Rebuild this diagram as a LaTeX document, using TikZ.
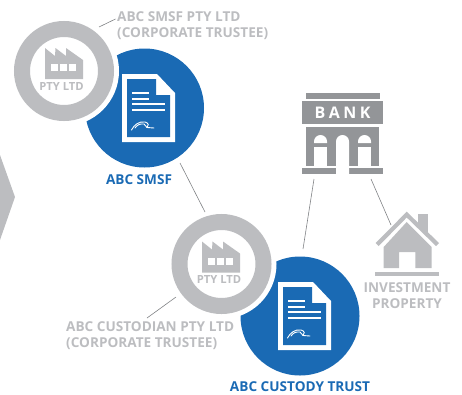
\documentclass[tikz,border=0pt]{standalone}
\usepackage{fontspec}
\setmainfont{Open Sans}
\definecolor{ringgrey}{HTML}{BCBDC0}
\definecolor{bankgrey}{HTML}{939598}
\definecolor{trustblue}{HTML}{1A6AB4}
\definecolor{linegrey}{HTML}{808285}
\tikzset{
  trustdisc/.style={circle,fill=trustblue,minimum size=119pt,inner sep=0pt},
  halo/.style={circle,fill=white,minimum size=110pt,inner sep=0pt},
  ringdisc/.style={circle,draw=ringgrey,line width=16pt,fill=white,minimum size=84pt,inner sep=0pt},
  link/.style={draw=linegrey,line width=0.6pt},
  greylabel/.style={text=ringgrey,font=\bfseries\fontsize{13.6}{16}\selectfont,inner sep=0pt},
  bluelabel/.style={text=trustblue,font=\bfseries\fontsize{13.6}{16}\selectfont,inner sep=0pt},
  greycentre/.style={greylabel,font=\bfseries\fontsize{11.2}{13}\selectfont},
  pics/docicon/.style={code={
    \fill[white] (122,74)--(157,74)--(175,93)--(175,142)--(122,142)--cycle;
    \fill[trustblue] (127,79)--(156,79)--(156,95)--(170,95)--(170,137)--(127,137)--cycle;
    \fill[white] (132,91.5) rectangle (149,93.5);
    \fill[white] (132,97.5) rectangle (149,99.5);
    \fill[white] (132,103) rectangle (165,105);
    \fill[white] (132,109) rectangle (165,111);
    \draw[white,line width=0.9pt,line cap=round] (131.5,130) .. controls (134,125) and (139,121) .. (145,122) .. controls (149,123) and (149,126) .. (147,127.5) -- (154,128);
    \draw[white,line width=0.9pt,line cap=round] (135,128) .. controls (137,125) and (140,123.5) .. (144,124) -- (147,127.5);
  }},
  pics/factoryicon/.style={code={
    \fill[ringgrey] (45,48)--(55,56)--(55.5,48)--(66,56)--(66,48)--(83,60)--(83,79)--(45,79)--cycle;
    \fill[white] (51,64) rectangle (58,71);
    \fill[white] (60,64) rectangle (67,71);
    \fill[white] (68.5,64) rectangle (76,71);
  }}
}
\begin{document}
\begin{tikzpicture}[x=1pt,y=-1pt]
\useasboundingbox (0,0) rectangle (462,394);
\fill[ringgrey] (0,155)--(15,197)--(0,240)--cycle;

% upper pair
\node[trustdisc] (smsf) at (144.5,108) {};
\node[halo] at (64,71) {};
\node[ringdisc] (smsfco) at (64,71) {};
\pic at (0,0) {docicon};
\pic at (0,0) {factoryicon};
\node[greycentre] (ptyone) at (61.5,86) {PTY LTD};
\node[bluelabel] (smsflabel) at (139,180) {ABC SMSF};
\node[greylabel,anchor=west,align=left] (smsfcolabel) at (117,26) {ABC SMSF PTY LTD\\(CORPORATE TRUSTEE)};

% lower pair
\node[trustdisc] (custody) at (300,316) {};
\node[halo] at (221.5,264) {};
\node[ringdisc] (custco) at (221.5,264) {};
\pic at (156,208) {docicon};
\pic at (157,193.5) {factoryicon};
\node[greycentre] (ptytwo) at (219,279.5) {PTY LTD};
\node[bluelabel] (custodylabel) at (300,387) {ABC CUSTODY TRUST};
\node[greylabel,anchor=west,align=left] (custcolabel) at (66,336) {ABC CUSTODIAN PTY LTD\\(CORPORATE TRUSTEE)};

% bank
\fill[bankgrey] (306,93) rectangle (380,99);
\node[fill=bankgrey,minimum width=81pt,minimum height=23pt,inner sep=0pt,text=white,font=\bfseries\fontsize{16}{18}\selectfont] (bank) at (342.5,112.5) {B\hspace{3.5pt}A\hspace{3.5pt}N\hspace{3.5pt}K};
\fill[bankgrey] (306,127) rectangle (379,166);
\fill[bankgrey] (302,168) rectangle (336,174);
\fill[bankgrey] (349,168) rectangle (383,174);
\fill[white] (314,143) -- (314,141.5) arc[start angle=180,end angle=360,radius=6.5] -- (327,143) -- cycle;
\fill[white] (358,143) -- (358,141.5) arc[start angle=180,end angle=360,radius=6.5] -- (371,143) -- cycle;
\fill[white] (314,147) rectangle (327,166);
\fill[white] (358,147) rectangle (371,166);
\fill[white] (336,174) -- (336,141.5) arc[start angle=180,end angle=360,radius=6.5] -- (349,174) -- cycle;

% house
\fill[ringgrey] (417.7,214) rectangle (428,236);
\fill[white] (406.7,216.5) -- (413,222) -- (420,228) -- (441,247) -- (373,247) -- cycle;
\fill[ringgrey] (375.7,243) -- (406.7,211.7) -- (439,243) -- (436,246) -- (406.7,217.5) -- (378.7,246) -- cycle;
\fill[ringgrey] (383.7,247) -- (406.7,222) -- (431.7,247) -- (431.7,268) -- (415.3,268) -- (415.3,252) -- (399,252) -- (399,268) -- (383.7,268) -- cycle;
\fill[ringgrey] (375,272) rectangle (439,276);
\node[greylabel,align=center] (property) at (407,295.5) {INVESTMENT\\PROPERTY};

% connectors
\coordinate (a1) at (99,27);
\coordinate (a2) at (115.5,19);
\coordinate (b1) at (180,163);
\coordinate (b2) at (205,212);
\coordinate (c1) at (314,179);
\coordinate (c2) at (303,249);
\coordinate (d1) at (371,179);
\coordinate (d2) at (391,225);
\coordinate (e1) at (176,297);
\coordinate (e2) at (147,318);
\draw[link] (a1) -- (a2);
\draw[link] (b1) -- (b2);
\draw[link] (c1) -- (c2);
\draw[link] (d1) -- (d2);
\draw[link] (e1) -- (e2);
\end{tikzpicture}
\end{document}
